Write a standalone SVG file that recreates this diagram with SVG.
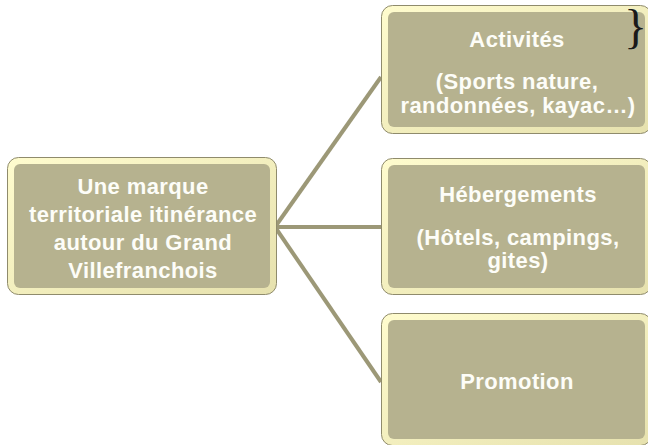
<svg xmlns="http://www.w3.org/2000/svg" width="648" height="445" viewBox="0 0 648 445">
  <defs>
    <linearGradient id="band" x1="0" y1="0" x2="1" y2="1">
      <stop offset="0" stop-color="#fffcce"/>
      <stop offset="1" stop-color="#e6e1ae"/>
    </linearGradient>
    <style>
      .outer { fill: url(#band); stroke: #8f8b6c; stroke-width: 1; }
      .inner { fill: #b6b28f; }
      .lbl { font-family: "Liberation Sans", Arial, sans-serif; font-weight: bold; font-size: 22px; letter-spacing: 0.4px; fill: #fdfdf8; text-anchor: middle; }
      .conn { stroke: #9c9877; stroke-width: 4; fill: none; stroke-linecap: butt; }
    </style>
  </defs>
  <rect width="648" height="445" fill="#ffffff"/>
  <g id="connectors">
    <line class="conn" x1="275" y1="227" x2="381" y2="77"/>
    <line class="conn" x1="275" y1="227" x2="381" y2="227"/>
    <line class="conn" x1="275" y1="227" x2="381" y2="382"/>
  </g>
  <g id="node-marque">
    <rect class="outer" x="7.5" y="157.5" width="269" height="137" rx="11"/>
    <rect class="inner" x="14" y="164" width="256" height="124" rx="6"/>
    <text class="lbl" x="143" y="194">Une marque</text>
    <text class="lbl" x="143" y="222">territoriale itinérance</text>
    <text class="lbl" x="143" y="250">autour du Grand</text>
    <text class="lbl" x="143" y="278">Villefranchois</text>
  </g>
  <g id="node-activites">
    <rect class="outer" x="381.5" y="5.5" width="270" height="128" rx="11"/>
    <rect class="inner" x="388" y="12" width="257" height="115" rx="6"/>
    <text class="lbl" x="517" y="47">Activités</text>
    <text class="lbl" x="517" y="89">(Sports nature,</text>
    <text class="lbl" x="518" y="113">randonnées, kayac…)</text>
  </g>
  <g id="node-hebergements">
    <rect class="outer" x="381.5" y="158.5" width="270" height="136" rx="11"/>
    <rect class="inner" x="388" y="165" width="257" height="123" rx="6"/>
    <text class="lbl" x="518" y="202">Hébergements</text>
    <text class="lbl" x="518" y="245">(Hôtels, campings,</text>
    <text class="lbl" x="518" y="268">gites)</text>
  </g>
  <g id="node-promotion">
    <rect class="outer" x="381.5" y="313.5" width="270" height="132" rx="11"/>
    <rect class="inner" x="388" y="320" width="257" height="119" rx="6"/>
    <text class="lbl" x="517" y="389">Promotion</text>
  </g>
  <text x="647" y="43" font-family="Liberation Serif, 'Times New Roman', serif" font-size="48" fill="#1a1a1a" text-anchor="end">}</text>
</svg>
